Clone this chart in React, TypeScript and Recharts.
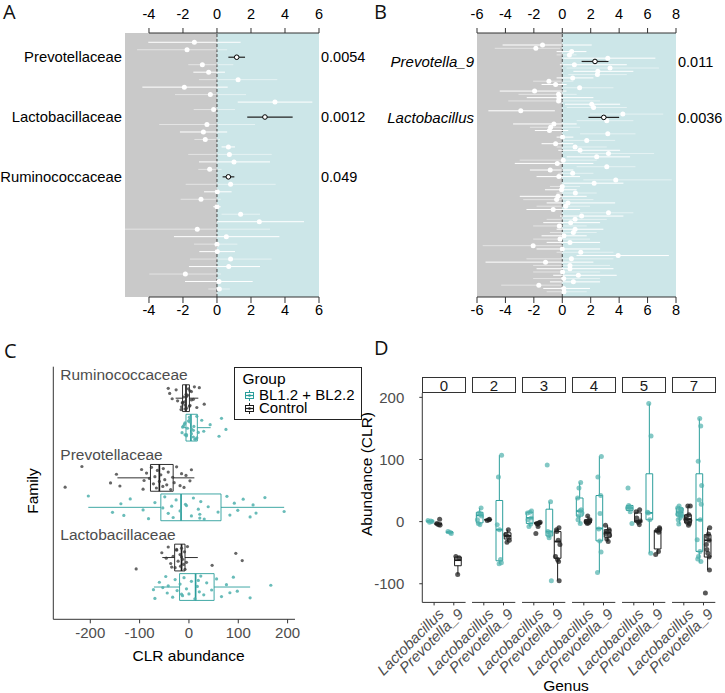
import React from "react"
import { ScatterChart, Scatter, XAxis, YAxis, ErrorBar, ReferenceArea, ReferenceLine } from "recharts"

const FONT = '"Liberation Sans", Arial, Helvetica, sans-serif'
const TEAL = "#2b9e9b"
const TEAL_PT = "#4fb0ad"
const DARK = "#1a1a1a"
const GREY_BG = "#c9c9c9"
const TEAL_BG = "#cce6e8"

// ---- panel A: family level estimates ----
const familyEst = [-1.33, -1.76, 1.16, -0.86, -0.49, 1.24, -1.92, -0.39, 3.41, -0.2, 2.82, -0.59, -0.8, -0.69, 0.67, 0.73, 1.0, -0.43, 0.67, 0.8, 0.02, -0.94, 0, 1.39, 2.49, -1.16, 0.55, 0, 0.02, 0.8, 0.69, -1.86, 0.12, 0.14]
const familyLo = [-4.04, -4.7, 0.67, -1.69, -1.39, -1.06, -4.39, -2.47, 1.22, -1.37, 1.78, -3.4, -2.18, -1.33, 0.27, -1.69, -1.06, -1.1, 0.33, -1.84, -0.76, -2.14, -0.22, 0.27, -0.02, -5.41, -2.53, -1.35, -1.04, -1.59, -1.65, -3.98, -1.88, -0.51]
const familyHi = [1.39, 0.6, 1.65, 0.96, 0.47, 3.55, 0.63, 1.71, 5.61, 1.06, 4.45, 2.24, 0.6, 0.18, 1.06, 3.22, 3.12, 0.27, 1.02, 3.45, 0.86, 0.22, 0.22, 2.53, 5.12, 3.12, 3.67, 1.2, 1.06, 3.22, 2.53, 0.24, 2.1, 0.76]
const familyHits = [2, 10, 18]
const familyNames = ["Prevotellaceae", "Lactobacillaceae", "Ruminococcaceae"]
const familyP = ["0.0054", "0.0012", "0.049"]
const familyTicks = [-4, -2, 0, 2, 4, 6]

// ---- panel B: genus level estimates ----
const genusEst = [-1.39, -1.86, 0.66, 0.5, 3.2, 2.3, 0.85, 3.36, 2.5, 2.47, 0.73, -0.94, -0.47, 1.22, -1.95, -0.26, -0.24, -0.26, 2.07, 2.2, -2.92, 4.26, 2.92, 3.13, -0.59, -0.82, -0.9, 3.2, 0.02, 1.72, -0.47, 0.9, 1.25, 3.25, 2.42, 0.07, -0.35, 3.13, -0.85, 0.73, -0.24, 3.76, 2.24, 0, -0.05, 0.92, -0.3, -0.4, 0.4, 0.24, -0.64, 3.25, 1.36, 0.9, 0.59, -0.21, 0.9, 0.78, 0.12, -0.16, 0.54, -2.05, 0, 1.3, 3.93, 0.64, -1.18, 0.54, 0.54, 0.02, 1.13, 0.1, 0.78, -1.65, 0.1, 0.12]
const genusLo = [-4.2, -4.75, -0.4, -0.4, 0.07, 1.36, -0.17, 0.3, 0.78, 0.42, -0.4, -2.05, -1.46, 0.07, -4.4, -3.08, -2.5, -3.8, 0.19, 0.31, -5.2, 1.95, 1.84, 1.01, -3.46, -2.28, -1.93, 1.25, -0.4, 0.07, -1.46, -0.4, -0.28, 1.25, 0.31, -3.0, -3.34, 1.01, -2.28, -0.28, -1.81, 1.48, 0.07, -0.87, -1.22, -0.4, -2.99, -2.75, -1.1, -1.81, -2.52, 1.25, -0.16, -1.1, -1.34, -2.05, -0.4, -0.87, -1.46, -2.05, -1.1, -5.6, -1.81, -0.4, 1.0, -2.52, -5.4, -2.05, -1.81, -2.05, -0.64, -2.05, -0.87, -4.3, -1.34, -1.1]
const genusHi = [2.07, -0.16, 1.7, 1.0, 6.55, 3.25, 4.54, 6.8, 5.0, 4.54, 2.19, 0.78, 0.31, 3.6, 0.3, 1.01, 2.19, 2.66, 4.07, 4.54, -0.52, 7.1, 4.0, 5.0, 1.01, 1.25, 0.42, 5.15, 0.78, 3.72, 0.78, 3.13, 4.07, 6.46, 4.77, 2.42, 2.19, 5.15, 0.78, 2.19, 1.25, 7.7, 4.3, 1.25, 1.01, 2.42, 1.72, 2.19, 3.72, 1.95, 1.25, 5.0, 4.3, 3.13, 2.66, 1.72, 2.89, 2.42, 1.72, 1.95, 2.66, 0.07, 2.66, 3.6, 7.5, 3.6, 2.19, 3.36, 3.6, 2.66, 3.83, 2.66, 2.66, 0.07, 1.95, 1.72]
const genusHits = [5, 22]
const genusNames = ["Prevotella_9", "Lactobacillus"]
const genusP = ["0.011", "0.0036"]
const genusTicks = [-6, -4, -2, 0, 2, 4, 6, 8]

// ---- panel C: CLR abundance per family, [lo, q1, median, q3, hi] ----
const families = ["Ruminococcaceae", "Prevotellaceae", "Lactobacillaceae"]
const famCtrlBox = [[-27, -13, -6, 1, 19], [-145, -78, -60, -32, 11], [-54, -29, -15, -8, 18]]
const famTreatBox = [[-13, -6, 4, 17, 44], [-204, -57, -16, 65, 193], [-71, -19, 13.5, 51, 124]]
const ruminoCtrl = [-42, -13, -8, -5, 2, 5, 9, 16, 11, -13, -6, 1, -26, -23, -16, -39, -34, 21, 31, -11, -5, 2, -9, -3, -15, -1, 5, -8]
const ruminoTreat = [-11, -8, -1, 5, 9, 16, -14, -9, -5, 2, 9, 14, -8, -3, 1, 5, 10, 16, 26, 30, 43, 61, 66, 75, -5, 2, 12, -13, 19]
const prevoCtrl = [-251, -217, -159, -147, -140, -96, -91, -93, -86, -80, -76, -72, -69, -66, -64, -60, -57, -53, -52, -49, -45, -42, -37, -33, -30, -25, -18, -15, 2, 5, -10, -6]
const prevoTreat = [-204, -155, -138, -132, -119, -93, -82, -69, -53, -49, -42, -35, -32, -26, -18, -7, 5, 9, 19, 22, 24, 31, 39, 59, 77, 83, 92, 99, 110, 124, 130, 136, 154, 193, 22, -5]
const lactoCtrl = [-107, -55, -46, -42, -37, -32, -28, -25, -22, -18, -17, -15, -13, -11, -9, -8, -15, -5, -3, 47, 95, 108, -25, -35]
const lactoTreat = [-72, -69, -60, -53, -47, -44, -42, -33, -28, -24, -18, -13, -10, -5, 0, 5, 12, 17, 21, 24, 30, 36, 46, 56, 66, 76, 83, 90, 98, 124, 166, -15, 19]
const famCtrlPts = [ruminoCtrl, prevoCtrl, lactoCtrl]
const famTreatPts = [ruminoTreat, prevoTreat, lactoTreat]

// ---- panel D: abundance per genus and day ----
const facetDays = ["0", "2", "3", "4", "5", "7"]
const genera = ["Lactobacillus", "Prevotella_9"]
const lactoTreatBox = [[-1, -0.3, 0.5, 1.3, 2], [-5, -2, 10, 15, 22], [-8, -3, 6, 15, 17], [-3, 9, 17, 38, 63], [16, 18, 22, 26, 27], [-4, 9, 15, 22, 25]]
const lactoCtrlBox = [[-6, -5, -4, -2, -1], [2, 2.5, 3, 3.5, 4], [-8, -3.8, -2.5, -1.2, -1], [-3, -2, 0, 3, 9], [-5, -1, 1, 14, 19], [-6, -2, 4, 11, 25]]
const prevoTreatBox = [[-19, -18, -17, -16.5, -16], [-68, -63, -13, 34, 107], [-26, -23, -16, 20, 32], [-82, -31, -11, 42, 105], [-51, 3, 14, 77, 190], [-66, -48, 3, 77, 166]]
const prevoCtrlBox = [[-85, -71, -62, -57, -56], [-33, -28, -23, -18, -13], [-95, -59, -32, -16, -10], [-32, -25, -18, -13, -6], [-53, -44, -16, -14, -10], [-78, -57, -30, -21, -10]]
const lactoTreatPts = [[2, 1, 0, -1], [14, 22, -3, -5, 9, 3, 12], [15, 17, 14, -4, -8, 6, 3], [63, 54, 19, 3, -3, 14, 9, 17, 38], [54, 16, -3, 26, 24, 22, 21], [-4, 11, 22, 19, 16, 9, 3, 14, 25, 20, 12, 6]]
const lactoCtrlPts = [[4, -3, -5, -6], [3, 2, 4], [-1, -3, -8, -19, -2, -4], [9, 3, -1, -2, -3, 1, 0], [19, 16, -1, -5, 6, 1], [25, 25, 11, 4, -3, -1, -6, 8, 2]]
const prevoTreatPts = [[-19, -16, -17], [107, 72, -13, -5, -61, -68, -66], [91, 32, -26, -95, -16, -18, -22], [105, 72, 13, -12, -49, -82, -31, 42], [190, 138, 15, 3, -51, 14], [166, 154, 97, 58, 35, 3, -29, -64, -56, -48, -60, 28]]
const prevoCtrlPts = [[-56, -58, -85], [-13, -33, -30, -21, -24], [-10, -13, -37, -61, -64, -56, -95, -16, -30], [-6, -13, -28, -32, -19, -22, -16], [-10, -14, -17, -53, -48, -12], [-10, -24, -30, -37, -51, -78, -115, -20, -45, -57]]

// fixed jitter pattern for the strip points
const JITTER = [-0.82, 0.35, 0.9, -0.15, 0.6, -0.55, 0.1, 0.78, -0.95, 0.42, -0.3, 0.68, -0.7, 0.22, 0.95, -0.4, 0.05, -0.88, 0.5, -0.1, 0.85, -0.62, 0.3, -0.25, 0.72, -0.78, 0.15, 0.58, -0.48, 0.98, -0.05, 0.4, -0.92, 0.65, -0.35, 0.25, -0.68, 0.8, -0.2, 0.48]
const jit = (k: number, shift = 0) => JITTER[(k + shift) % JITTER.length]

const whiteDot = (p: any) => <circle cx={p.cx} cy={p.cy} r={2.5} fill="#fff" />
const openDot = (p: any) => <circle cx={p.cx} cy={p.cy} r={2.3} fill="#fff" stroke="#000" strokeWidth={1} />

function Forest(props: any) {
  const { est, lo, hi, hits, names, pvals, ticks, xDomain, yDomain, left, leftW, plotW, rightW, labelStyle } = props
  const rows = est.map((e: number, i: number) => ({ x: e, y: i, err: [e - lo[i], hi[i] - e] }))
  const plain = rows.filter((r: any) => !hits.includes(r.y))
  const bright = plain.filter((r: any) => r.y % 2 === 0)
  const faint = plain.filter((r: any) => r.y % 2 === 1)
  const marked = rows.filter((r: any) => hits.includes(r.y))
  const [yTop, yBottom] = yDomain
  const tickStyle = { fontSize: 14.5, fill: "#000", fontFamily: FONT }
  const first = ticks[0]
  const last = ticks[ticks.length - 1]
  return (
    <div style={{ position: "absolute", left, top: 0 }}>
      <ScatterChart width={leftW + plotW + rightW} height={317} margin={{ top: 5, right: 0, bottom: 0, left: 0 }}>
        <XAxis xAxisId="top" orientation="top" type="number" dataKey="x" domain={xDomain} ticks={ticks} allowDataOverflow interval={0}
          height={28} tickSize={5} tickMargin={9} axisLine={false} tickLine={{ stroke: "#333" }} tick={tickStyle} />
        <XAxis xAxisId="bot" orientation="bottom" type="number" dataKey="x" domain={xDomain} ticks={ticks} allowDataOverflow interval={0}
          height={20} tickSize={6} tickMargin={2} axisLine={false} tickLine={{ stroke: "#333" }} tick={tickStyle} />
        <YAxis yAxisId="l" type="number" dataKey="y" domain={yDomain} reversed allowDataOverflow ticks={hits} interval={0}
          tickFormatter={(v: number) => names[hits.indexOf(v)]} width={leftW} tickSize={0} tickMargin={3}
          axisLine={false} tickLine={false} tick={{ ...tickStyle, ...labelStyle }} />
        <YAxis yAxisId="r" orientation="right" type="number" dataKey="y" domain={yDomain} reversed allowDataOverflow ticks={hits} interval={0}
          tickFormatter={(v: number) => pvals[hits.indexOf(v)]} width={rightW} tickSize={0} tickMargin={2}
          axisLine={false} tickLine={false} tick={tickStyle} />
        <ReferenceArea xAxisId="bot" yAxisId="l" x1={xDomain[0]} x2={0} fill={GREY_BG} fillOpacity={1} stroke="none" />
        <ReferenceArea xAxisId="bot" yAxisId="l" x1={0} x2={xDomain[1]} fill={TEAL_BG} fillOpacity={1} stroke="none" />
        <ReferenceLine xAxisId="bot" yAxisId="l" x={0} stroke="#444" strokeDasharray="3 2" />
        <ReferenceLine xAxisId="bot" yAxisId="l" ifOverflow="visible" stroke="#333"
          segment={[{ x: first, y: yTop }, { x: last, y: yTop }]} />
        <ReferenceLine xAxisId="bot" yAxisId="l" ifOverflow="visible" stroke="#333"
          segment={[{ x: first, y: yBottom }, { x: last, y: yBottom }]} />
        <Scatter xAxisId="bot" yAxisId="l" data={faint} shape={whiteDot} isAnimationActive={false}>
          <ErrorBar dataKey="err" direction="x" width={0} stroke="#fff" strokeOpacity={0.5} strokeWidth={1} isAnimationActive={false} />
        </Scatter>
        <Scatter xAxisId="bot" yAxisId="l" data={bright} shape={whiteDot} isAnimationActive={false}>
          <ErrorBar dataKey="err" direction="x" width={0} stroke="#fff" strokeWidth={1} isAnimationActive={false} />
        </Scatter>
        <Scatter xAxisId="bot" yAxisId="l" data={marked} shape={openDot} isAnimationActive={false}>
          <ErrorBar dataKey="err" direction="x" width={0} stroke="#222" strokeWidth={1.2} isAnimationActive={false} />
        </Scatter>
      </ScatterChart>
    </div>
  )
}

// horizontal box for panel C
function hBox(s: number[], c: number, color: string, key: string) {
  const [lo, q1, med, q3, hi] = s
  const h = 0.168
  return [
    <ReferenceLine key={key + "w1"} segment={[{ x: lo, y: c }, { x: q1, y: c }]} stroke={color} strokeWidth={0.9} ifOverflow="visible" />,
    <ReferenceLine key={key + "w2"} segment={[{ x: q3, y: c }, { x: hi, y: c }]} stroke={color} strokeWidth={0.9} ifOverflow="visible" />,
    <ReferenceArea key={key + "b"} x1={q1} x2={q3} y1={c - h} y2={c + h} fill="none" stroke={color} strokeWidth={0.9} ifOverflow="visible" />,
    <ReferenceLine key={key + "m"} segment={[{ x: med, y: c - h }, { x: med, y: c + h }]} stroke={color} strokeWidth={1.7} ifOverflow="visible" />,
  ]
}

// vertical box for panel D
function vBox(s: number[], c: number, color: string, key: string) {
  const [lo, q1, med, q3, hi] = s
  const w = 0.17
  return [
    <ReferenceLine key={key + "w1"} segment={[{ x: c, y: lo }, { x: c, y: q1 }]} stroke={color} strokeWidth={1} ifOverflow="visible" />,
    <ReferenceLine key={key + "w2"} segment={[{ x: c, y: q3 }, { x: c, y: hi }]} stroke={color} strokeWidth={1} ifOverflow="visible" />,
    <ReferenceArea key={key + "b"} x1={c - w} x2={c + w} y1={q1} y2={q3} fill="#fff" fillOpacity={1} stroke={color} strokeWidth={1} ifOverflow="visible" />,
    <ReferenceLine key={key + "m"} segment={[{ x: c - w, y: med }, { x: c + w, y: med }]} stroke={color} strokeWidth={1.8} ifOverflow="visible" />,
  ]
}

function FamilyBoxes() {
  const off = 0.185
  const ctrl = famCtrlPts.flatMap((pts, fi) => pts.map((v, k) => ({ x: v, y: fi + 1 - off + jit(k, fi * 7) * 0.15 })))
  const treat = famTreatPts.flatMap((pts, fi) => pts.map((v, k) => ({ x: v, y: fi + 1 + off + jit(k, fi * 5 + 3) * 0.15 })))
  const boxes = families.flatMap((f, fi) => [
    ...hBox(famCtrlBox[fi], fi + 1 - off, DARK, f + "c"),
    ...hBox(famTreatBox[fi], fi + 1 + off, TEAL, f + "t"),
  ])
  return (
    <div style={{ position: "absolute", left: 0, top: 330 }}>
      <ScatterChart width={300} height={332.3} margin={{ top: 36.7, right: 5, bottom: 0, left: 13 }}>
        <XAxis type="number" dataKey="x" domain={[-275, 215]} ticks={[-200, -100, 0, 100, 200]} allowDataOverflow interval={0}
          height={43} tickSize={4} tickMargin={4} axisLine={{ stroke: "#333" }} tickLine={{ stroke: "#333" }}
          tick={{ fontSize: 15, fill: "#4d4d4d", fontFamily: FONT }} />
        <YAxis type="number" dataKey="y" domain={[0.42, 3.59]} reversed allowDataOverflow width={40.3}
          tick={false} tickLine={false} axisLine={{ stroke: "#333" }} />
        {families.map((f, fi) => (
          <ReferenceLine key={f} y={fi + 1 - 0.48} stroke="none"
            label={{ value: f, position: "insideLeft", offset: 7, fill: "#4d4d4d", fontSize: 15.5, fontFamily: FONT }} />
        ))}
        {boxes}
        <Scatter data={ctrl} isAnimationActive={false}
          shape={(p: any) => <circle cx={p.cx} cy={p.cy} r={1.6} fill="#333" fillOpacity={0.75} />} />
        <Scatter data={treat} isAnimationActive={false}
          shape={(p: any) => <circle cx={p.cx} cy={p.cy} r={1.6} fill={TEAL_PT} fillOpacity={0.85} />} />
      </ScatterChart>
    </div>
  )
}

function BoxIcon({ color }: { color: string }) {
  return (
    <svg width={11} height={11} style={{ position: "absolute", left: 0, top: 0 }}>
      <line x1={5.5} y1={0} x2={5.5} y2={11} stroke={color} strokeWidth={1} />
      <rect x={1.5} y={2.5} width={8} height={6} fill="#fff" stroke={color} strokeWidth={1} />
      <line x1={1.5} y1={5.5} x2={9.5} y2={5.5} stroke={color} strokeWidth={1.2} />
      <circle cx={5.5} cy={5.5} r={1.3} fill={color} />
    </svg>
  )
}

function GroupLegend() {
  const items = [{ label: "BL1.2 + BL2.2", color: TEAL }, { label: "Control", color: DARK }]
  return (
    <div style={{ position: "absolute", left: 233.5, top: 366.7, width: 128, height: 53.5, border: "1px solid #222", boxSizing: "border-box", background: "#fff", fontSize: 15, color: "#000" }}>
      <div style={{ position: "absolute", left: 8, top: 4, lineHeight: "14px", fontSize: 15.5 }}>Group</div>
      {items.map((it, i) => (
        <div key={it.label} style={{ position: "absolute", left: 9.5, top: 22.5 + i * 13 }}>
          <BoxIcon color={it.color} />
          <span style={{ position: "absolute", left: 15, top: -1, lineHeight: "12px", whiteSpace: "nowrap" }}>{it.label}</span>
        </div>
      ))}
    </div>
  )
}

function GenusTick(props: any) {
  const { x, y, payload } = props
  const tx = x + 3
  return (
    <text x={tx} y={y} transform={`rotate(-45 ${tx} ${y})`} textAnchor="end" dy="0.72em"
      fontSize={15} fontStyle="italic" fill="#4d4d4d" fontFamily={FONT}>
      {genera[payload.value - 1]}
    </text>
  )
}

const FACET_LEFT = 422.3
const FACET_STEP = 50
const FACET_W = 43.3
const Y_AXIS_W = 62.3

function Facet({ fi }: { fi: number }) {
  const showY = fi === 0
  const off = 0.21
  const left = FACET_LEFT + fi * FACET_STEP - (showY ? Y_AXIS_W : 0)
  const treat = [
    ...lactoTreatPts[fi].map((v, k) => ({ x: 1 - off + jit(k, fi * 3) * 0.12, y: v })),
    ...prevoTreatPts[fi].map((v, k) => ({ x: 2 - off + jit(k, fi * 3 + 11) * 0.12, y: v })),
  ]
  const ctrl = [
    ...lactoCtrlPts[fi].map((v, k) => ({ x: 1 + off + jit(k, fi * 5 + 4) * 0.12, y: v })),
    ...prevoCtrlPts[fi].map((v, k) => ({ x: 2 + off + jit(k, fi * 5 + 17) * 0.12, y: v })),
  ]
  return (
    <>
      <div style={{ position: "absolute", left: FACET_LEFT + fi * FACET_STEP, top: 376.7, width: FACET_W, height: 16.6, border: "1px solid #333", boxSizing: "border-box", fontSize: 15, lineHeight: "15px", textAlign: "center", color: "#1a1a1a", background: "#fff" }}>
        {facetDays[fi]}
      </div>
      <div style={{ position: "absolute", left, top: 393.3 }}>
        <ScatterChart width={(showY ? Y_AXIS_W : 0) + FACET_W} height={294} margin={{ top: 0, right: 0, bottom: 0, left: 0 }}>
          <XAxis type="number" dataKey="x" domain={[0.4, 2.6]} ticks={[1, 2]} allowDataOverflow interval={0}
            height={84.6} tickSize={3} tickMargin={2} axisLine={{ stroke: "#333" }} tickLine={{ stroke: "#333" }}
            tick={(p: any) => <GenusTick {...p} />} />
          <YAxis type="number" dataKey="y" domain={[-130, 207]} ticks={[-100, 0, 100, 200]} allowDataOverflow interval={0}
            hide={!showY} width={Y_AXIS_W} tickSize={3} tickMargin={15} axisLine={{ stroke: "#333" }} tickLine={{ stroke: "#333" }}
            tick={{ fontSize: 15, fill: "#4d4d4d", fontFamily: FONT }} />
          {[
            ...vBox(lactoTreatBox[fi], 1 - off, TEAL, "lt"),
            ...vBox(lactoCtrlBox[fi], 1 + off, DARK, "lc"),
            ...vBox(prevoTreatBox[fi], 2 - off, TEAL, "pt"),
            ...vBox(prevoCtrlBox[fi], 2 + off, DARK, "pc"),
          ]}
          <Scatter data={treat} isAnimationActive={false}
            shape={(p: any) => <circle cx={p.cx} cy={p.cy} r={2.5} fill={TEAL_PT} fillOpacity={0.7} />} />
          <Scatter data={ctrl} isAnimationActive={false}
            shape={(p: any) => <circle cx={p.cx} cy={p.cy} r={2.5} fill="#222" fillOpacity={0.75} />} />
        </ScatterChart>
      </div>
    </>
  )
}

function Letter({ t, x, y }: { t: string; x: number; y: number }) {
  return <div style={{ position: "absolute", left: x, top: y, fontFamily: '"Open Sans", sans-serif', fontSize: 20, lineHeight: "20px", color: "#111" }}>{t}</div>
}

function Title({ t, cx, cy, rotate }: { t: string; cx: number; cy: number; rotate?: boolean }) {
  return (
    <div style={{ position: "absolute", left: cx - 80, top: cy - 9, width: 160, height: 18, lineHeight: "18px", textAlign: "center", fontSize: 15.5, color: "#000", transform: rotate ? "rotate(-90deg)" : undefined }}>
      {t}
    </div>
  )
}

export default function App() {
  return (
    <div style={{ position: "absolute", left: 0, top: 0, width: 725, height: 693, background: "#fff", fontFamily: FONT, overflow: "hidden" }}>
      <style>{".recharts-surface{overflow:visible}"}</style>
      <Forest est={familyEst} lo={familyLo} hi={familyHi} hits={familyHits} names={familyNames} pvals={familyP}
        ticks={familyTicks} xDomain={[-5.41, 6]} yDomain={[-1.24, 34.07]} left={0} leftW={125} plotW={194} rightW={45}
        labelStyle={{ fontSize: 14.8 }} />
      <Forest est={genusEst} lo={genusLo} hi={genusHi} hits={genusHits} names={genusNames} pvals={genusP}
        ticks={genusTicks} xDomain={[-6, 8]} yDomain={[-3.65, 76.6]} left={362} leftW={115} plotW={199} rightW={49}
        labelStyle={{ fontSize: 15, fontStyle: "italic" }} />
      <FamilyBoxes />
      <GroupLegend />
      {facetDays.map((d, fi) => <Facet key={d} fi={fi} />)}
      <Title t="Family" cx={32.5} cy={491} rotate />
      <Title t="CLR abundance" cx={188.5} cy={656} />
      <Title t="Abundance (CLR)" cx={367} cy={474} rotate />
      <Title t="Genus" cx={566} cy={686} />
      <Letter t="A" x={3} y={2} />
      <Letter t="B" x={374} y={2} />
      <Letter t="C" x={4} y={341} />
      <Letter t="D" x={374} y={338} />
    </div>
  )
}
